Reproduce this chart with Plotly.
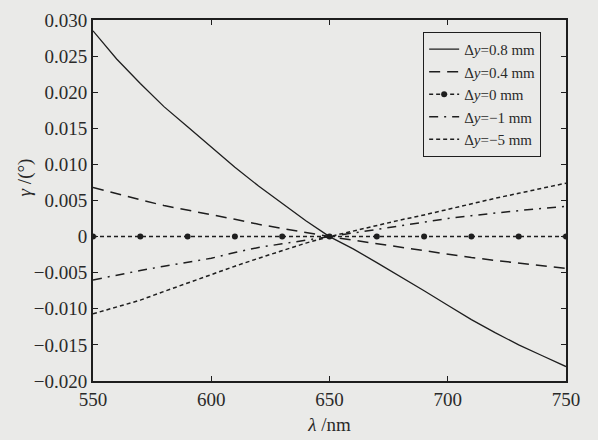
import plotly.graph_objects as go

wavelength = [550, 560, 570, 580, 590, 600, 610, 620, 630, 640, 650,
              660, 670, 680, 690, 700, 710, 720, 730, 740, 750]
gamma_p08 = [0.0285, 0.0246, 0.0212, 0.0180, 0.0152, 0.0124, 0.0096, 0.0070, 0.0046, 0.0022, 0.0,
             -0.0017, -0.0036, -0.0055, -0.0075, -0.0095, -0.0115, -0.0133, -0.0150, -0.0165, -0.0180]
gamma_p04 = [0.0068, 0.0059, 0.0051, 0.0043, 0.0037, 0.0031, 0.0024, 0.0017, 0.0011, 0.0005, 0.0,
             -0.0005, -0.0010, -0.0015, -0.0020, -0.0025, -0.0029, -0.0033, -0.0037, -0.0040, -0.0044]
wavelength_0 = [550, 570, 590, 610, 630, 650, 670, 690, 710, 730, 750]
gamma_0 = [0, 0, 0, 0, 0, 0, 0, 0, 0, 0, 0]
gamma_m1 = [-0.0060, -0.0053, -0.0047, -0.0041, -0.0036, -0.0030, -0.0022, -0.0015, -0.0010, -0.0005, 0.0,
            0.0006, 0.0011, 0.0016, 0.0020, 0.0025, 0.0029, 0.0033, 0.0036, 0.0039, 0.0042]
gamma_m5 = [-0.0107, -0.0097, -0.0088, -0.0076, -0.0064, -0.0052, -0.0041, -0.0030, -0.0019, -0.0009, 0.0,
            0.0008, 0.0015, 0.0023, 0.0030, 0.0038, 0.0046, 0.0053, 0.0060, 0.0067, 0.0074]

x_ticks = [550, 600, 650, 700, 750]
y_ticks = [0.030, 0.025, 0.020, 0.015, 0.010, 0.005, 0, -0.005, -0.010, -0.015, -0.020]
y_ticktext = ["0.030", "0.025", "0.020", "0.015", "0.010", "0.005", "0",
              "\u22120.005", "\u22120.010", "\u22120.015", "\u22120.020"]

ink = "#1e1e1e"
txt = "#2a2a2a"
bg = "#eaeae8"
font = "Liberation Serif"

fig = go.Figure()
fig.add_trace(go.Scatter(x=wavelength, y=gamma_p08, mode="lines",
                         line=dict(color=ink, width=1.3),
                         name="\u0394<i>y</i>=0.8 mm"))
fig.add_trace(go.Scatter(x=wavelength, y=gamma_p04, mode="lines",
                         line=dict(color=ink, width=1.5, dash="11px,7px"),
                         name="\u0394<i>y</i>=0.4 mm"))
fig.add_trace(go.Scatter(x=wavelength_0, y=gamma_0, mode="lines+markers",
                         line=dict(color=ink, width=1.5, dash="4px,3px"),
                         marker=dict(color=ink, size=6),
                         name="\u0394<i>y</i>=0 mm"))
fig.add_trace(go.Scatter(x=wavelength, y=gamma_m1, mode="lines",
                         line=dict(color=ink, width=1.5, dash="9px,6px,2px,6px"),
                         name="\u0394<i>y</i>=\u22121 mm"))
fig.add_trace(go.Scatter(x=wavelength, y=gamma_m5, mode="lines",
                         line=dict(color=ink, width=1.5, dash="4px,3px"),
                         name="\u0394<i>y</i>=\u22125 mm"))

axis_common = dict(showgrid=False, zeroline=False, showline=True, linecolor=ink, linewidth=2,
                   mirror="ticks", ticks="inside", ticklen=5, tickcolor=ink, tickwidth=1.2,
                   automargin=False,
                   tickfont=dict(family=font, size=19, color=txt))

fig.update_xaxes(range=[550, 750], tickvals=x_ticks,
                 title=dict(text="<i>\u03bb</i> /nm", font=dict(family=font, size=19, color=txt), standoff=9),
                 **axis_common)
fig.update_yaxes(range=[-0.020, 0.030], tickvals=y_ticks, ticktext=y_ticktext, **axis_common)

fig.add_annotation(text="<i>\u03b3</i> /(\u00b0)", textangle=-90, showarrow=False,
                   xref="paper", yref="paper", x=-0.143, y=0.565,
                   xanchor="center", yanchor="middle",
                   font=dict(family=font, size=19, color=txt))

fig.update_layout(
    width=598, height=440,
    margin=dict(l=93, r=32, t=20, b=59),
    paper_bgcolor=bg, plot_bgcolor=bg,
    showlegend=True,
    legend=dict(x=0.698, y=0.967, xanchor="left", yanchor="top",
                bgcolor=bg, bordercolor=ink, borderwidth=1,
                font=dict(family=font, size=15, color=txt),
                tracegroupgap=0, itemwidth=30),
)

fig.write_html("out.html", config={"displayModeBar": False},
               post_script="document.body.style.margin='0';document.body.style.background='#eaeae8';")
